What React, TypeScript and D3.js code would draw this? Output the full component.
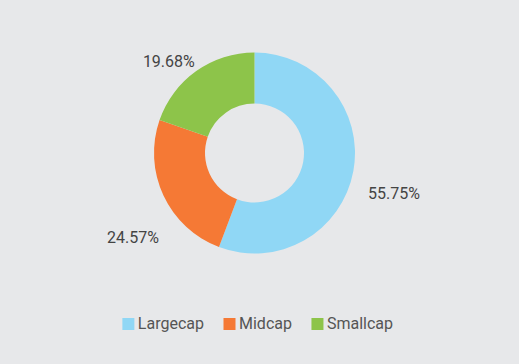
import React, { useEffect, useRef } from 'react';
import * as d3 from 'd3';

const categories = ['Largecap', 'Midcap', 'Smallcap'];
const shares = [55.75, 24.57, 19.68];
const colors = ['#90d7f5', '#f57935', '#8dc44a'];

const WIDTH = 519;
const HEIGHT = 364;

const App: React.FC = () => {
  const svgRef = useRef<SVGSVGElement>(null);

  useEffect(() => {
    if (!svgRef.current) return;
    const root = d3.select(svgRef.current);
    root.selectAll('*').remove();

    root.append('rect')
      .attr('width', WIDTH)
      .attr('height', HEIGHT)
      .attr('fill', '#e7e8ea');

    const cx = 254.5;
    const cy = 153;
    const outer = 100.5;
    const inner = 49.5;

    const data = categories.map((c, i) => ({ name: c, value: shares[i], color: colors[i] }));

    const pie = d3.pie<typeof data[number]>()
      .sort(null)
      .value(d => d.value);

    const arc = d3.arc<d3.PieArcDatum<typeof data[number]>>()
      .innerRadius(inner)
      .outerRadius(outer);

    const g = root.append('g').attr('transform', `translate(${cx}, ${cy})`);
    const arcs = pie(data);

    g.selectAll('path.slice')
      .data(arcs)
      .enter()
      .append('path')
      .attr('class', 'slice')
      .attr('d', arc)
      .attr('fill', d => d.data.color);

    // percentage labels outside the ring, a little behind the slice middle
    const labelR = 141;
    const shift = -2 * Math.PI / 180;
    const mid = (d: d3.PieArcDatum<typeof data[number]>) => (d.startAngle + d.endAngle) / 2 + shift;
    g.selectAll('text.pct')
      .data(arcs)
      .enter()
      .append('text')
      .attr('class', 'pct')
      .attr('x', d => labelR * Math.sin(mid(d)) + (Math.cos(mid(d)) < 0 && Math.sin(mid(d)) < 0 ? 4 : 0))
      .attr('y', d => -labelR * Math.cos(mid(d)) + 25.5)
      .attr('text-anchor', 'middle')
      .attr('font-family', 'Roboto, sans-serif')
      .attr('font-size', 16)
      .attr('fill', '#444')
      .text(d => `${d.data.value.toFixed(2)}%`);

    // legend
    const legend = root.append('g');
    const box = 12;
    const gap = 3.5;
    const itemGap = 19.5;
    let x = 0;
    data.forEach(d => {
      const item = legend.append('g').attr('transform', `translate(${x}, 0)`);
      item.append('rect')
        .attr('x', 0)
        .attr('y', -11)
        .attr('width', box)
        .attr('height', box)
        .attr('fill', d.color);
      const t = item.append('text')
        .attr('x', box + gap)
        .attr('y', 0)
        .attr('font-family', 'Roboto, sans-serif')
        .attr('font-size', 16)
        .attr('fill', '#555')
        .text(d.name);
      const w = (t.node() as SVGTextElement).getComputedTextLength();
      x += box + gap + w + itemGap;
    });
    const total = x - itemGap;
    legend.attr('transform', `translate(${257.7 - total / 2}, 329)`);
  }, []);

  return (
    <svg
      ref={svgRef}
      width={WIDTH}
      height={HEIGHT}
      style={{ position: 'absolute', left: 0, top: 0, display: 'block' }}
    />
  );
};

export default App;
